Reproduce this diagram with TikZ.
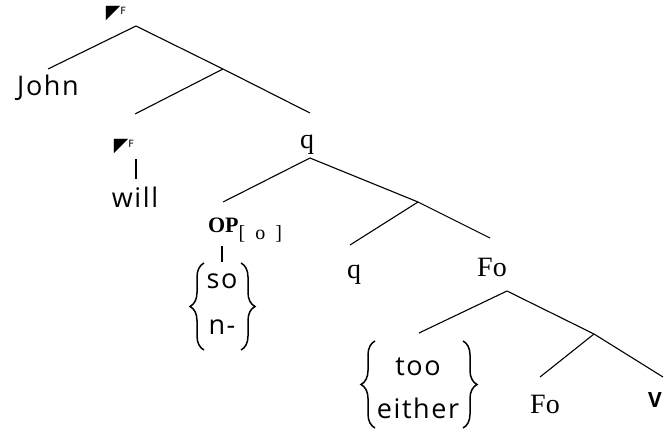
\documentclass[tikz,border=0pt]{standalone}
\usepackage{fontspec}
\usetikzlibrary{decorations.pathreplacing}
\setmainfont{Liberation Serif}
\newfontfamily\sansf[LetterSpace=6]{Open Sans}
\newfontfamily\dej{DejaVu Sans}
\begin{document}
\begin{tikzpicture}[x=1pt,y=-1pt,
  edge/.style={line width=1.1pt},
  sw/.style={font=\sansf\fontsize{27}{30}\selectfont, inner sep=0pt},
  sf/.style={font=\fontsize{28}{30}\selectfont, inner sep=0pt},
  glyph/.style={font=\dej\fontsize{19}{19}\selectfont, inner sep=0pt},
  cbrace/.style={line width=1.5pt, decorate, decoration={brace, amplitude=14pt, aspect=0.5}}]
\useasboundingbox (0,0) rectangle (668,439);
% labels
\node[glyph] (top) at (116,14) {◤\raisebox{4pt}{\fontsize{10}{10}\selectfont F}};
\node[sw] (john) at (48,88) {John};
\node[glyph] (tw) at (124,147) {◤\raisebox{4pt}{\fontsize{10}{10}\selectfont F}};
\node[sw] (will) at (135,197) {will};
\node[sf] (q1) at (307,145) {q};
\node[inner sep=0pt] (op) at (245,230) {\fontsize{22}{24}\selectfont\textbf{OP}\raisebox{-7pt}{\fontsize{20}{22}\selectfont[\,\,\,o\,\,\,]}};
\node[sw, anchor=base] (so) at (222,288) {so};
\node[sw, anchor=base] (no) at (222,334) {n-};
\node[sf] (q2) at (354,275) {q};
\node[sf] (fo1) at (492,267) {Fo};
\node[sw, anchor=base] (too) at (418,375) {too};
\node[sw, anchor=base] (either) at (418,418) {either};
\node[sf] (fo2) at (545,404) {Fo};
\node[font=\sansf\bfseries\fontsize{21}{24}\selectfont, inner sep=0pt] (v) at (655,400) {V};
% brace corners
\coordinate (sbl) at (204,350);
\coordinate (stl) at (204,263);
\coordinate (str) at (241,263);
\coordinate (sbr) at (241,350);
\coordinate (tbl) at (375,428);
\coordinate (ttl) at (375,341);
\coordinate (ttr) at (463,341);
\coordinate (tbr) at (463,428);
% branch points
\coordinate (a) at (136,26);
\coordinate (jn) at (48,69);
\coordinate (b) at (223,69);
\coordinate (bl) at (135,114);
\coordinate (q1t) at (310,113);
\coordinate (c) at (310,158);
\coordinate (opt) at (223,202);
\coordinate (d) at (418,202);
\coordinate (q2t) at (350,245);
\coordinate (fo1t) at (490,238);
\coordinate (e) at (507,291);
\coordinate (tet) at (419,333);
\coordinate (f) at (594,334);
\coordinate (fo2t) at (540,377);
\coordinate (vt) at (663,377);
\coordinate (wt) at (136,159);
\coordinate (wb) at (136,179);
\coordinate (ot) at (222,246);
\coordinate (ob) at (222,262);
% braces
\draw[cbrace] (sbl) -- (stl);
\draw[cbrace] (str) -- (sbr);
\draw[cbrace] (tbl) -- (ttl);
\draw[cbrace] (ttr) -- (tbr);
% connectors
\draw[edge] (jn) -- (a) -- (b) -- (q1t);
\draw[edge] (b) -- (bl);
\draw[edge] (opt) -- (c) -- (d) -- (fo1t);
\draw[edge] (d) -- (q2t);
\draw[edge] (tet) -- (e) -- (f) -- (vt);
\draw[edge] (f) -- (fo2t);
\draw[edge] (wt) -- (wb);
\draw[edge] (ot) -- (ob);
\end{tikzpicture}
\end{document}
